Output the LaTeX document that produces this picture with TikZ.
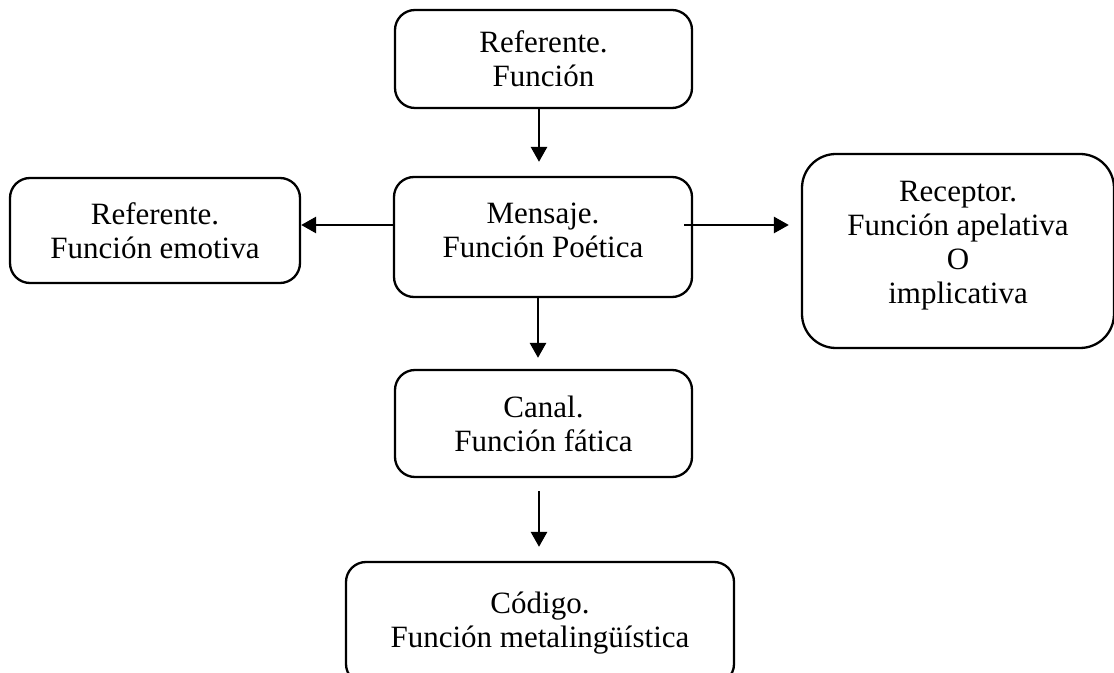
\documentclass[tikz,border=0pt]{standalone}
\usepackage{fontspec}
\setmainfont{Liberation Serif}
\usetikzlibrary{arrows.meta,positioning}

\tikzset{
	caja/.style={draw,line width=1.15pt,rounded corners=10pt,align=center,inner sep=0pt,font=\fontsize{15.5pt}{17pt}\selectfont},
	flecha/.style={-{Triangle[length=7.5pt,width=8pt]},line width=1.4pt}
}

\begin{document}
\begin{tikzpicture}[x=0.5pt,y=-0.5pt]
	\useasboundingbox (0,0) rectangle (1114,673);

	\node[caja,minimum width=148.5pt,minimum height=49pt] (ref) at (543.5,59) {Referente.\\Función};
	\node[caja,minimum width=149pt,minimum height=60pt,text depth=7pt] (msg) at (543,237) {Mensaje.\\Función Poética};
	\node[caja,minimum width=145pt,minimum height=52.5pt] (emo) at (155,230.5) {Referente.\\Función emotiva};
	\node[caja,rounded corners=17pt,minimum width=156pt,minimum height=97pt,text depth=8.5pt] (rec) at (958,251) {Receptor.\\Función apelativa\\O\\implicativa};
	\node[caja,minimum width=148.5pt,minimum height=53.5pt] (can) at (543.5,423.5) {Canal.\\Función fática};
	\node[caja,minimum width=194pt,minimum height=61pt,text depth=3pt] (cod) at (540,623) {Código.\\Función metalingüística};

	\draw[flecha,shorten >=7pt] ([xshift=-2.25pt]ref.south) -- ([xshift=-2.25pt]ref.south |- msg.north);
	\draw[flecha] ([yshift=6pt]msg.west) -- ([yshift=6pt]msg.west -| emo.east);
	\draw[flecha,shorten >=6pt] ([xshift=-4.5pt,yshift=6pt]msg.east) -- ([yshift=6pt]msg.east -| rec.west);
	\draw[flecha,shorten >=5.5pt] ([xshift=-2.5pt]msg.south) -- ([xshift=-2.5pt]msg.south |- can.north);
	\draw[flecha,shorten <=6.5pt,shorten >=7pt] ([xshift=-2.25pt]can.south) -- ([xshift=-2.25pt]can.south |- cod.north);
\end{tikzpicture}
\end{document}
